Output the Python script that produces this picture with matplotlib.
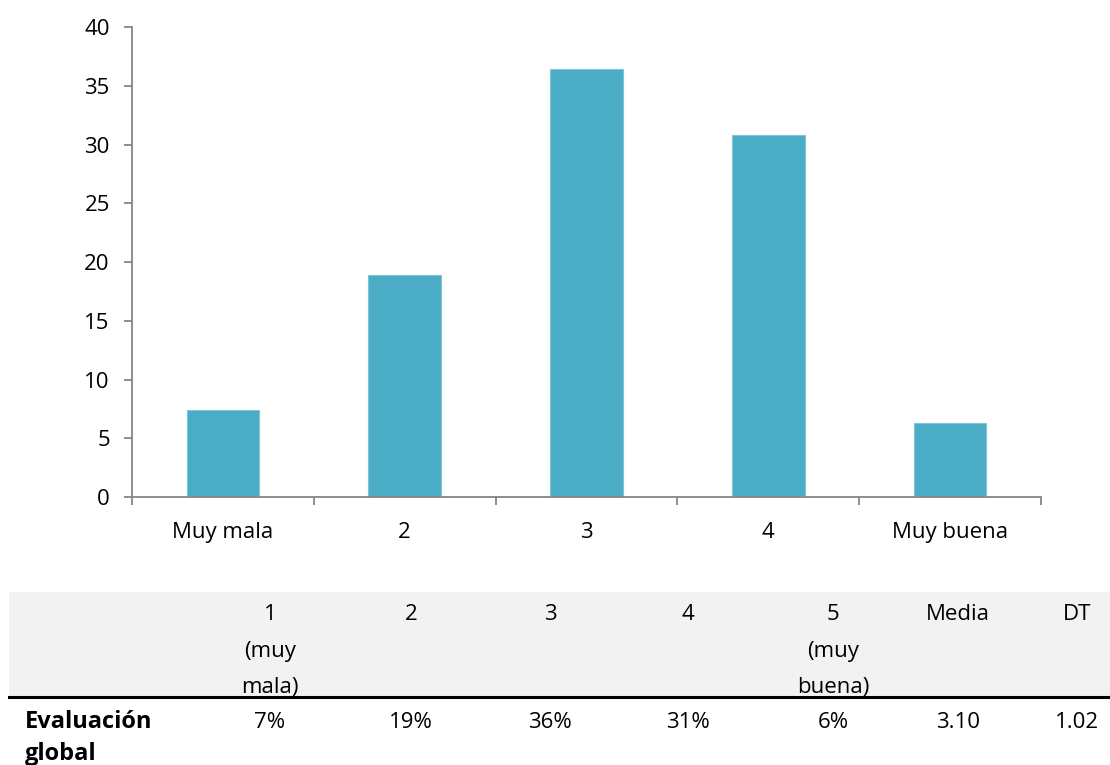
import matplotlib.pyplot as plt
from matplotlib.patches import Rectangle
from matplotlib.lines import Line2D

plt.rcParams['font.family'] = ['Open Sans', 'DejaVu Sans']

# Distribution of the overall evaluation (% of answers)
categorias = ['Muy mala', '2', '3', '4', 'Muy buena']
porcentajes = [7.4, 18.9, 36.4, 30.8, 6.3]

# Summary table below the chart
cabeceras = [['1', '(muy', 'mala)'], ['2'], ['3'], ['4'], ['5', '(muy', 'buena)'],
             ['Media'], ['DT']]
fila_nombre = ['Evaluación', 'global']
fila_valores = ['7%', '19%', '36%', '31%', '6%', '3.10', '1.02']

bar_color = '#4bacc6'
axis_color = '#868686'
fs = 16

fig = plt.figure(figsize=(11.1, 7.65), dpi=100)
ax = fig.add_axes([0.1189, 0.3503, 0.8189, 0.6144])

x = range(len(categorias))
ax.bar(x, porcentajes, width=0.4, color=bar_color, edgecolor='#7fc4d8', linewidth=0.8)

ax.set_xlim(-0.5, len(categorias) - 0.5)
ax.set_ylim(0, 40)
ax.set_yticks(range(0, 41, 5))
ax.set_xticks(list(x))
ax.set_xticklabels(categorias)
ax.set_xticks([i - 0.5 for i in range(len(categorias) + 1)], minor=True)
ax.tick_params(axis='x', which='major', length=0, pad=18, labelsize=fs)
ax.tick_params(axis='x', which='minor', length=6, width=1.3, color=axis_color)
ax.tick_params(axis='y', length=6, width=1.3, color=axis_color, pad=10, labelsize=fs)

for side in ['top', 'right']:
    ax.spines[side].set_visible(False)
for side in ['left', 'bottom']:
    ax.spines[side].set_color(axis_color)
    ax.spines[side].set_linewidth(1.3)

# Table: grey header band, thick rule, then the data row
W, H = 1110, 765
fig.patches.append(Rectangle((9 / W, 1 - 697 / H), 1 - 9 / W, 105 / H,
                             transform=fig.transFigure, facecolor='#f2f2f2',
                             edgecolor='none', zorder=0))
fig.lines.append(Line2D([9 / W, 1], [1 - 697 / H, 1 - 697 / H],
                        transform=fig.transFigure, color='black', linewidth=2.2))

col_x = [270, 411, 550, 688, 833, 958, 1077]
head_y = [615, 651, 687]
row_y = [722, 754]
for cx, lineas, valor in zip(col_x, cabeceras, fila_valores):
    for yy, linea in zip(head_y, lineas):
        fig.text(cx / W, 1 - yy / H, linea, ha='center', va='center', fontsize=fs)
    fig.text(cx / W, 1 - row_y[0] / H, valor, ha='center', va='center', fontsize=fs)

for yy, linea in zip(row_y, fila_nombre):
    fig.text(25 / W, 1 - yy / H, linea, ha='left', va='center', fontsize=17,
             fontweight='bold')

fig.savefig('out.png', dpi=100)
